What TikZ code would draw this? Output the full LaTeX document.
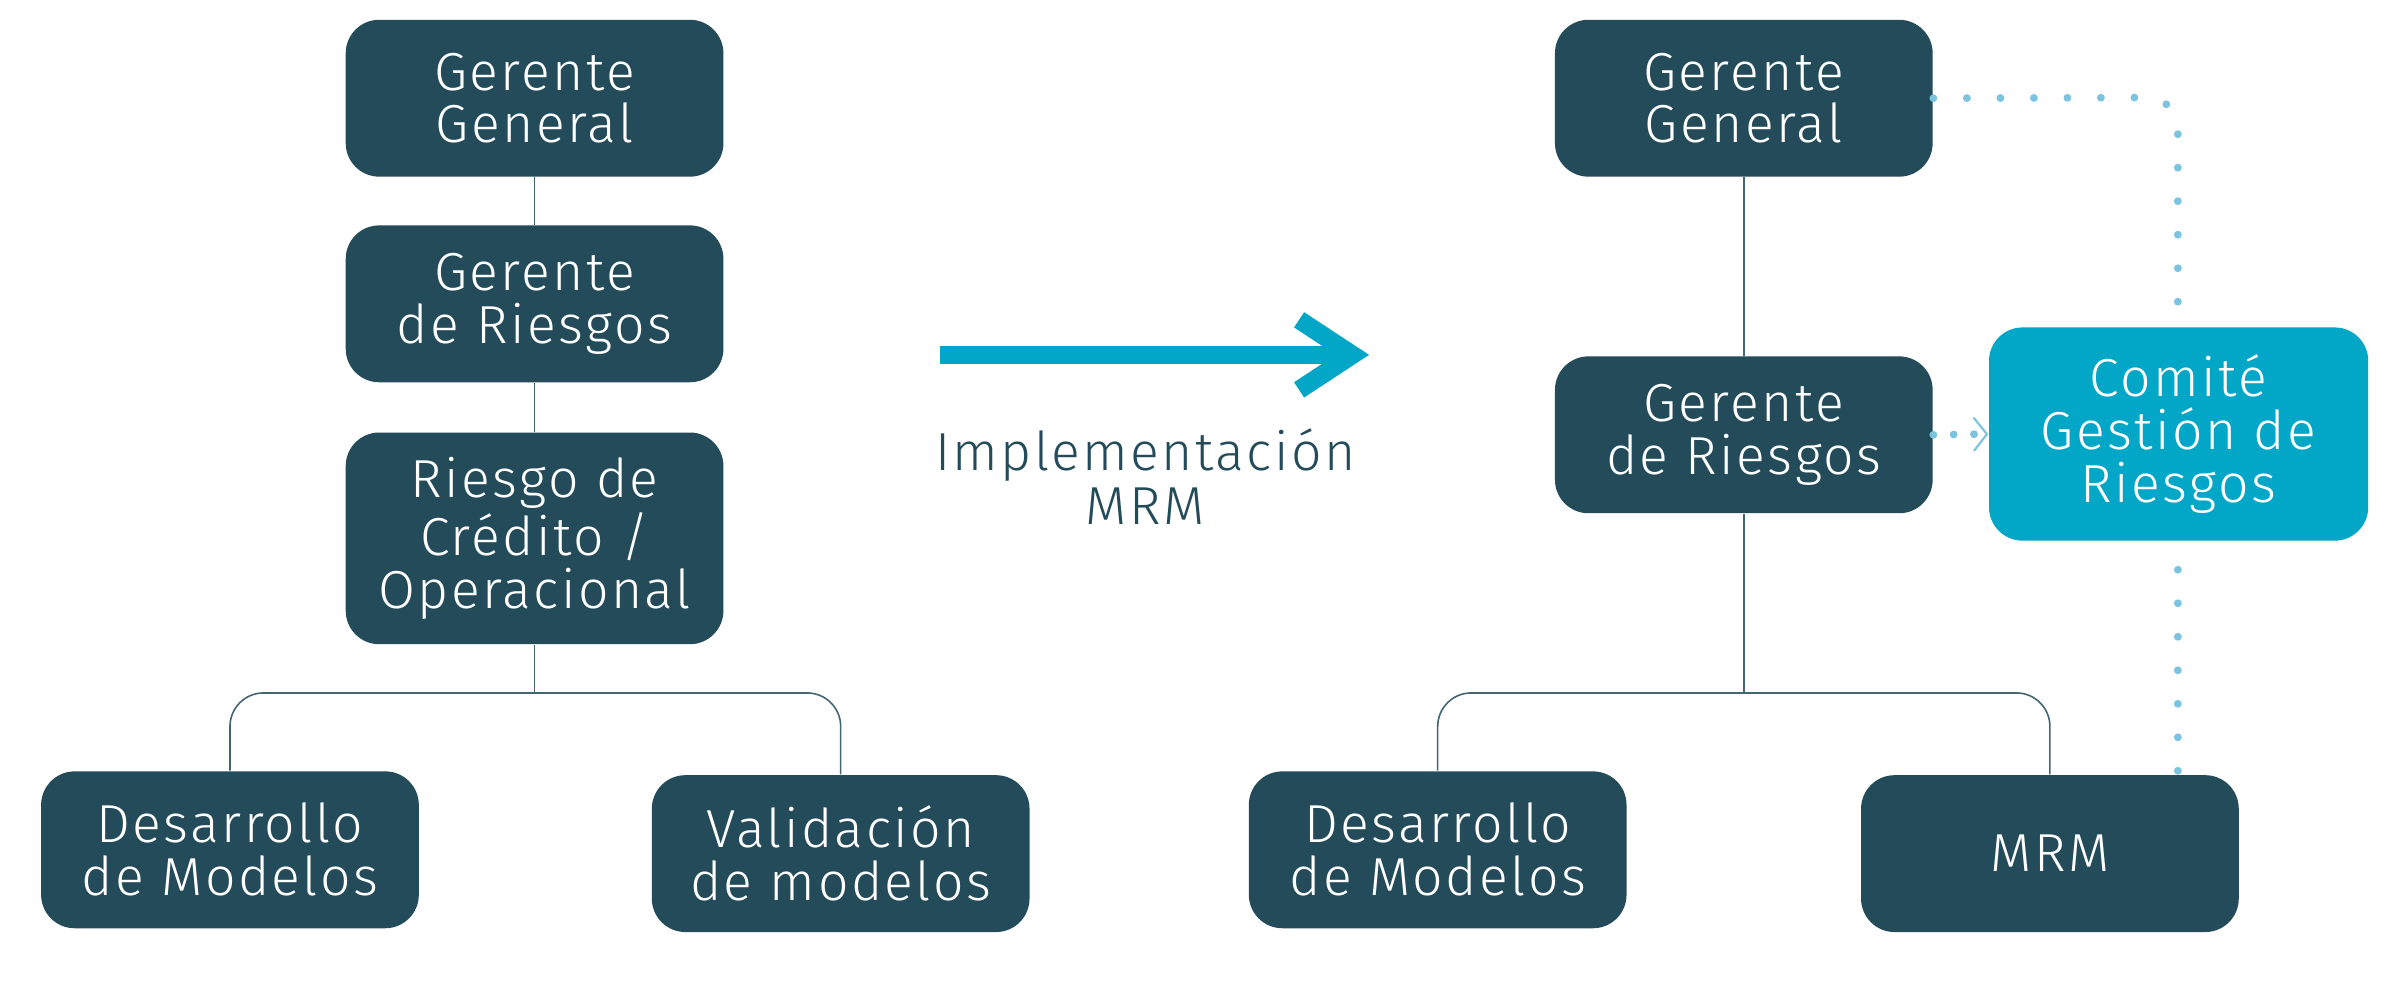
\documentclass[tikz,border=0pt]{standalone}
\usepackage{fontspec}
\setmainfont{Fira Sans Light}[LetterSpace=4.5]
\usetikzlibrary{arrows.meta}

\definecolor{azuloscuro}{HTML}{234B5A}
\definecolor{cian}{HTML}{02A6C6}
\definecolor{celeste}{HTML}{7CC3E0}

\tikzset{
  caja/.style={fill=azuloscuro, text=white, rounded corners=0.33cm,
    minimum width=3.72cm, minimum height=1.545cm, inner sep=0pt,
    align=center, font=\fontsize{15}{14.8}\selectfont},
  linea/.style={draw=azuloscuro!85, line width=0.45pt},
  punteado/.style={draw=celeste, line width=2.2pt, line cap=round,
    dash pattern=on 0pt off 0.33cm},
  flecha/.style={draw=cian, line width=0.18cm},
  etiqueta/.style={text=azuloscuro, align=center, font=\fontsize{15}{15}\selectfont},
}

\begin{document}
\begin{tikzpicture}[x=0.015cm, y=-0.015cm]
    \useasboundingbox (0,0) rectangle (1568,657);

    % Organigrama antes
    \node[caja] (gg1) at (351,64.5) {Gerente\\General};
    \node[caja] (gr1) at (351,199.5) {Gerente\\de Riesgos};
    \node[caja, minimum height=2.085cm] (rc) at (351,353.5) {Riesgo de\\Crédito /\\Operacional};
    \node[caja] (dm1) at (151,558) {Desarrollo\\de Modelos};
    \node[caja] (vm) at (552,560.5) {Validación\\de modelos};

    % Lineas del primer organigrama
    \coordinate (b1) at (351,455);
    \draw[linea] (gg1) -- (gr1);
    \draw[linea] (gr1) -- (rc);
    \draw[linea] (rc) -- (b1);
    \draw[linea, rounded corners=0.33cm] (dm1.north) |- (b1) -| (vm.north);

    % Flecha de implementacion
    \coordinate (ini) at (617,233);
    \coordinate (fin) at (888,233);
    \draw[flecha] (ini) -- (fin);
    \draw[flecha, line join=miter] (853,210) -- (fin) -- (853,256);
    \node[etiqueta] (impl) at (752,313) {Implementación\\MRM};

    % Organigrama despues
    \node[caja] (gg2) at (1145,64.5) {Gerente\\General};
    \node[caja] (gr2) at (1145,285.5) {Gerente\\de Riesgos};
    \node[caja] (dm2) at (944,558) {Desarrollo\\de Modelos};
    \node[caja] (mrm) at (1346,560.5) {MRM};

    % Lineas del segundo organigrama
    \coordinate (b2) at (1145,455);
    \draw[linea] (gg2) -- (gr2);
    \draw[linea] (gr2) -- (b2);
    \draw[linea, rounded corners=0.33cm] (dm2.north) |- (b2) -| (mrm.north);

    % Linea punteada hacia el comite
    \coordinate (esq) at (1430,64);
    \draw[punteado, rounded corners=0.3cm] (gg2.east) -- (esq) -- (esq |- mrm.north);
    \node[caja, fill=cian, minimum width=3.735cm, minimum height=2.1cm] (comite) at (1430.5,285) {Comité\\Gestión de\\Riesgos};
    \draw[punteado, dash pattern=on 0pt off 0.2cm, -{Straight Barb[length=0.13cm, width=0.33cm, line width=0.6pt]}] (gr2.east) -- (comite.west);
\end{tikzpicture}
\end{document}
